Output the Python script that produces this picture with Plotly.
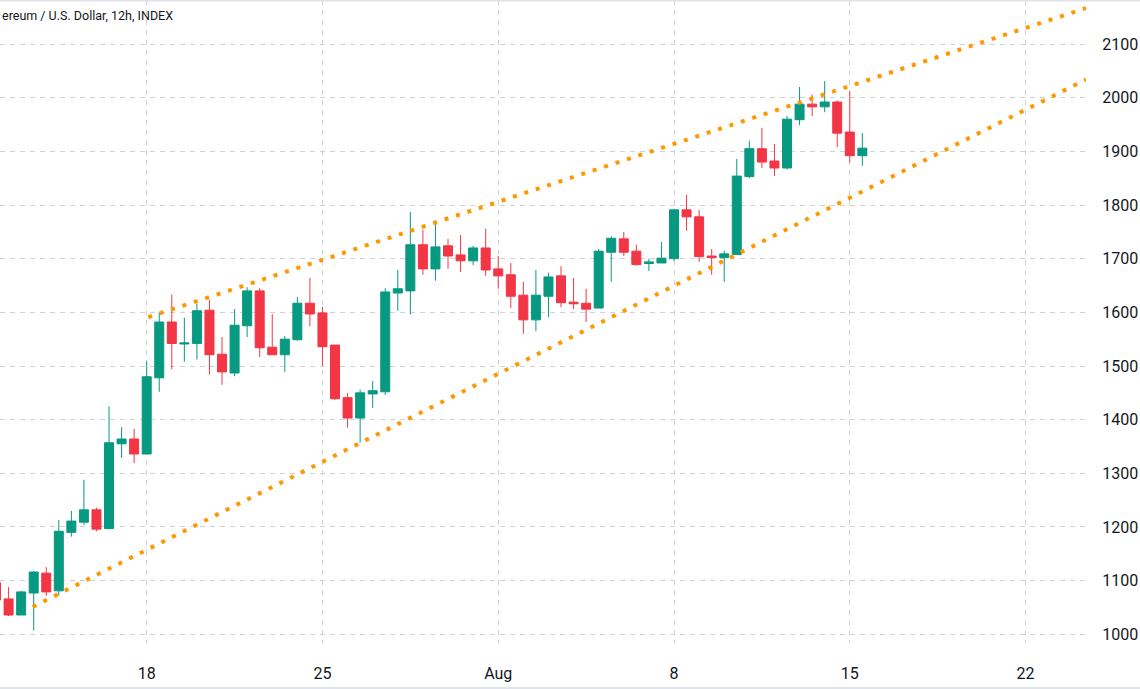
import plotly.graph_objects as go
import pandas as pd

# ---- data (ETH/USD, 12h candles) ----
start_time = "2022-07-12 00:00"
opens = [1096, 1066, 1036, 1077, 1114, 1081, 1190, 1209, 1232, 1197, 1355, 1364, 1336, 1478,
         1582, 1541, 1542, 1604, 1522, 1487, 1575, 1640, 1535, 1521, 1549, 1617, 1599, 1539,
         1441, 1403, 1448, 1452, 1636, 1640, 1726, 1681, 1724, 1707, 1696, 1720, 1681, 1670,
         1632, 1586, 1630, 1668, 1619, 1617, 1608, 1712, 1737, 1714, 1691, 1692, 1700, 1791,
         1778, 1705, 1702, 1708, 1853, 1905, 1882, 1869, 1959, 1988, 1983, 1992, 1936, 1892]
highs = [1100, 1088, 1081, 1118, 1125, 1213, 1230, 1288, 1236, 1425, 1386, 1383, 1509, 1600,
         1633, 1590, 1616, 1623, 1554, 1606, 1647, 1645, 1597, 1556, 1629, 1664, 1610, 1539,
         1450, 1456, 1472, 1645, 1679, 1787, 1754, 1767, 1737, 1744, 1724, 1756, 1705, 1692,
         1657, 1679, 1674, 1686, 1664, 1644, 1718, 1742, 1750, 1726, 1700, 1731, 1793, 1819,
         1791, 1718, 1715, 1886, 1920, 1944, 1914, 1966, 2020, 2006, 2031, 1995, 2012, 1934]
lows = [1060, 1034, 1036, 1007, 1072, 1072, 1182, 1204, 1192, 1197, 1329, 1319, 1336, 1452,
        1494, 1508, 1512, 1484, 1465, 1481, 1554, 1517, 1521, 1489, 1547, 1574, 1500, 1437,
        1385, 1357, 1422, 1446, 1603, 1596, 1670, 1659, 1681, 1675, 1688, 1668, 1644, 1608,
        1560, 1565, 1591, 1610, 1606, 1582, 1608, 1657, 1705, 1687, 1677, 1692, 1696, 1752,
        1694, 1670, 1657, 1708, 1850, 1869, 1854, 1866, 1949, 1966, 1973, 1908, 1879, 1873]
closes = [1064, 1036, 1079, 1116, 1079, 1192, 1211, 1232, 1196, 1357, 1364, 1336, 1480, 1582,
          1542, 1543, 1603, 1521, 1489, 1576, 1640, 1534, 1521, 1550, 1617, 1597, 1536, 1439,
          1403, 1450, 1454, 1638, 1644, 1726, 1681, 1722, 1705, 1696, 1720, 1679, 1668, 1630,
          1586, 1632, 1666, 1618, 1616, 1606, 1714, 1738, 1712, 1689, 1694, 1701, 1791, 1778,
          1704, 1702, 1709, 1854, 1905, 1880, 1869, 1960, 1988, 1983, 1992, 1934, 1892, 1906]

# trend lines (two anchor points each: time, price)
upper_line_x = ["2022-07-18 01:30", "2022-08-24 09:46"]
upper_line_y = [1591, 2167]
lower_line_x = ["2022-07-13 11:00", "2022-08-24 09:46"]
lower_line_y = [1051, 2034]

x_tick_vals = ["2022-07-18", "2022-07-25", "2022-08-01", "2022-08-08", "2022-08-15", "2022-08-22"]
x_tick_text = ["18", "25", "Aug", "8", "15", "22"]
y_tick_vals = [1000, 1100, 1200, 1300, 1400, 1500, 1600, 1700, 1800, 1900, 2000, 2100]
y_tick_text = [str(v) for v in y_tick_vals]

# visible part of the chart header (left end is cropped in the reference)
title_text = "ereum / U.S. Dollar, 12h, INDEX"

times = pd.date_range(start_time, periods=len(opens), freq="12h")

GREEN = "#089981"
RED = "#F23645"
ORANGE = "#FF9800"
GRID = "#d2d2d2"
TXT = "#131722"
FONT = "Roboto"

fig = go.Figure()
fig.add_trace(go.Candlestick(
    x=times, open=opens, high=highs, low=lows, close=closes,
    increasing=dict(line=dict(color=GREEN, width=1), fillcolor=GREEN),
    decreasing=dict(line=dict(color=RED, width=1), fillcolor=RED),
    whiskerwidth=0, showlegend=False, hoverinfo="skip",
))
for lx, ly in [(upper_line_x, upper_line_y), (lower_line_x, lower_line_y)]:
    fig.add_trace(go.Scatter(
        x=lx, y=ly, mode="lines",
        line=dict(color=ORANGE, width=4, dash="4px,8px"),
        showlegend=False, hoverinfo="skip",
    ))

fig.update_layout(
    width=1140, height=689,
    margin=dict(l=0, r=54, t=0, b=46),
    paper_bgcolor="white", plot_bgcolor="white",
    boxgap=0.283, boxgroupgap=0,
    showlegend=False,
    font=dict(family=FONT, color=TXT),
    xaxis=dict(
        range=["2022-07-12 03:48", "2022-08-24 09:46"],
        rangeslider=dict(visible=False),
        tickmode="array", tickvals=x_tick_vals, ticktext=x_tick_text,
        showgrid=True, gridcolor=GRID, gridwidth=1, griddash="5px,5px",
        zeroline=False, showline=False,
        ticks="outside", ticklen=16, tickcolor="rgba(0,0,0,0)",
        tickfont=dict(size=16, color=TXT, family=FONT),
    ),
    yaxis=dict(
        side="right",
        range=[983.8, 2182.1],
        tickmode="array", tickvals=y_tick_vals, ticktext=y_tick_text,
        showgrid=True, gridcolor=GRID, gridwidth=1, griddash="5px,5px",
        zeroline=False, showline=False,
        ticks="outside", ticklen=12, tickcolor="rgba(0,0,0,0)",
        tickfont=dict(size=16, color=TXT, family=FONT),
    ),
    shapes=[
        dict(type="line", xref="paper", yref="paper", x0=-0.01, x1=1.06,
             y0=1 - 0.5 / 643, y1=1 - 0.5 / 643, line=dict(color="#e0e3eb", width=2)),
        dict(type="line", xref="paper", yref="paper", x0=-0.01, x1=1.06,
             y0=(643 - 688) / 643, y1=(643 - 688) / 643, line=dict(color="#e0e3eb", width=2)),
    ],
    annotations=[
        dict(text=title_text, xref="paper", yref="paper", x=0, y=1,
             xanchor="left", yanchor="top", xshift=0, yshift=-6, showarrow=False,
             font=dict(size=12.5, color=TXT, family=FONT)),
    ],
)

fig.write_html("out.html")
